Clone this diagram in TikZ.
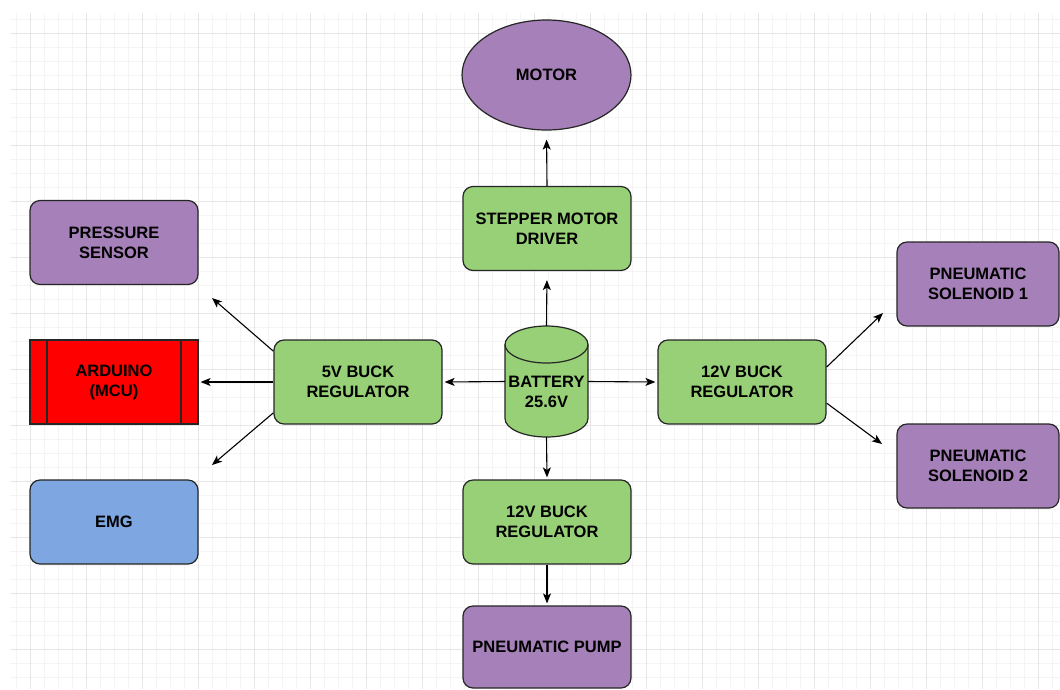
\documentclass[tikz,border=0pt]{standalone}
\usepackage{fontspec}
\setmainfont{Liberation Sans}
\usetikzlibrary{arrows.meta,shapes.geometric}
\definecolor{purp}{HTML}{A680B8}
\definecolor{grn}{HTML}{97D077}
\definecolor{emgblue}{HTML}{7EA6E0}
\definecolor{gridmin}{HTML}{F4F4F4}
\definecolor{gridmaj}{HTML}{E6E6E6}
\definecolor{edge}{HTML}{262626}
\begin{document}
\begin{tikzpicture}[x=1pt,y=1pt,
  lbl/.style={font=\fontsize{16.5}{20}\selectfont\bfseries, align=center, text=black},
  box/.style={lbl, draw=edge, line width=1.2pt, rounded corners=10pt, minimum width=168pt, minimum height=84pt, inner sep=0pt},
  pbox/.style={box, fill=purp},
  gbox/.style={box, fill=grn},
  arr/.style={draw=black, line width=1.1pt, -{Stealth[length=10pt,width=8pt,inset=2.5pt]}}
]
\useasboundingbox (0,0) rectangle (1060,-689);
\fill[white] (0,0) rectangle (1060,-689);
% grid
\begin{scope}
\clip (10,-13) rectangle (1060,-689);
\foreach \x in {16,30,...,1060} \draw[gridmin, line width=0.8pt] (\x,-13) -- (\x,-689);
\foreach \y in {19,33,...,689} \draw[gridmin, line width=0.8pt] (10,-\y) -- (1060,-\y);
\foreach \x in {30,86,...,1060} \draw[gridmaj, line width=0.9pt] (\x,-13) -- (\x,-689);
\foreach \y in {33,89,...,689} \draw[gridmaj, line width=0.9pt] (10,-\y) -- (1060,-\y);
\end{scope}

% nodes
\node[lbl, ellipse, draw=edge, line width=1.2pt, fill=purp, minimum width=169pt, minimum height=110pt, inner sep=0pt] (motor) at (546.5,-75) {MOTOR};
\node[gbox] (step) at (547,-228.5) {STEPPER MOTOR\\DRIVER};
\node[pbox] (ps) at (114,-242.5) {PRESSURE\\SENSOR};
\node[box, fill=red, rounded corners=0pt] (ard) at (114,-382) {ARDUINO\\(MCU)};
\draw[edge, line width=1.2pt] (47,-340) -- (47,-424) (181,-340) -- (181,-424);
\node[box, fill=emgblue] (emg) at (114,-522) {EMG};
\node[gbox] (v5) at (358,-382) {5V BUCK\\REGULATOR};
\node[gbox] (r12) at (742,-382) {12V BUCK\\REGULATOR};
\node[gbox] (b12) at (547,-522) {12V BUCK\\REGULATOR};
\node[pbox, minimum width=162pt] (sol1) at (978,-284) {PNEUMATIC\\SOLENOID 1};
\node[pbox, minimum width=162pt] (sol2) at (978,-466) {PNEUMATIC\\SOLENOID 2};
\node[pbox, minimum height=82pt] (pump) at (547,-647) {PNEUMATIC PUMP};

% battery cylinder
\filldraw[fill=grn, draw=edge, line width=1.2pt]
  (505,-344.5) -- (505,-418.5) arc[start angle=180,end angle=360,x radius=41.5,y radius=18.5]
  -- (588,-344.5) arc[start angle=0,end angle=180,x radius=41.5,y radius=18.5] -- cycle;
\draw[edge, line width=1.2pt] (505,-344.5) arc[start angle=180,end angle=360,x radius=41.5,y radius=18.5];
\node[minimum width=83pt, minimum height=111pt, inner sep=0pt] (batt) at (546.5,-381.5) {};
\node[lbl] (batttxt) at (546.5,-392) {BATTERY\\25.6V};

% free ends
\coordinate (psend) at (212,-298);
\coordinate (emgend) at (212,-465);
\coordinate (s1end) at (883,-313);
\coordinate (s2end) at (882,-444);

% connectors
\draw[arr, shorten >=9pt] (step.north) -- (motor.south);
\draw[arr, shorten >=9pt] (batt.north) -- (step.south);
\draw[arr, shorten >=2pt] (batt.west) -- (v5.east);
\draw[arr, shorten >=2pt] (batt.east) -- (r12.west);
\draw[arr, shorten >=2pt] (batt.south) -- (b12.north);
\draw[arr, shorten >=2pt] (b12.south) -- (pump.north);
\draw[arr, shorten >=2pt] (v5.west) -- (ard.east);
\draw[arr] (v5.160) -- (psend);
\draw[arr] (v5.200) -- (emgend);
\draw[arr] (r12.10) -- (s1end);
\draw[arr] (r12.-14) -- (s2end);
\end{tikzpicture}
\end{document}
